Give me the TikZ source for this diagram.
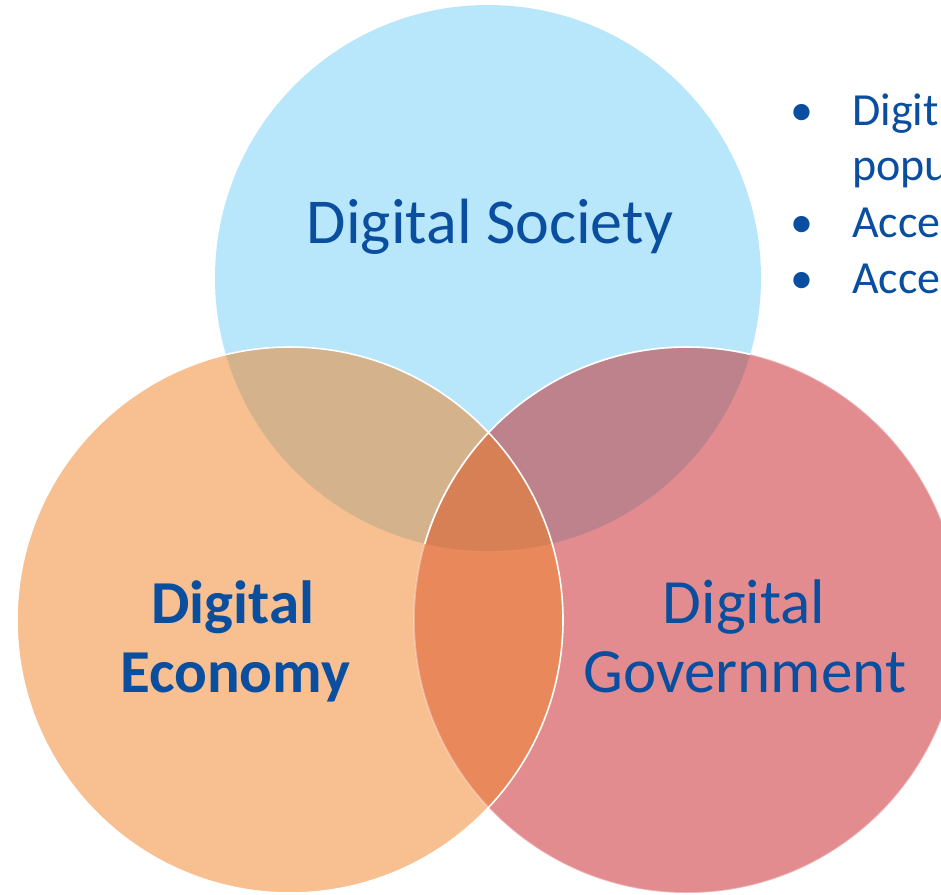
\documentclass[tikz,border=0pt]{standalone}
\usepackage{fontspec}
\setmainfont{Carlito}
\definecolor{cblue}{HTML}{B8E6FA}
\definecolor{corange}{HTML}{F8C091}
\definecolor{cred}{HTML}{E28C8F}
\definecolor{cbo}{HTML}{D4B28C}
\definecolor{cbr}{HTML}{BE828C}
\definecolor{cor}{HTML}{E9885A}
\definecolor{call}{HTML}{D77F55}
\definecolor{ctext}{HTML}{0A4EA0}
\begin{document}
\begin{tikzpicture}[x=1pt,y=-1pt,
  lbl/.style={text=ctext,inner sep=0pt,anchor=base},
  bul/.style={text=ctext,inner sep=0pt,anchor=base west,font=\fontsize{46}{50}\selectfont},
  rim/.style={draw=white,line width=1.6pt}]
\useasboundingbox (0,0) rectangle (941,894);
\def\R{273}
\coordinate (cs) at (488,278);
\coordinate (ce) at (290,620);
\coordinate (cg) at (687,620);
% base fills
\fill[cblue] (cs) circle (\R);
\fill[corange] (ce) circle (\R);
\fill[cred] (cg) circle (\R);
% pairwise overlaps
\begin{scope}\clip (cs) circle (\R); \fill[cbo] (ce) circle (\R); \end{scope}
\begin{scope}\clip (cs) circle (\R); \fill[cbr] (cg) circle (\R); \end{scope}
\begin{scope}\clip (ce) circle (\R); \fill[cor] (cg) circle (\R); \end{scope}
\begin{scope}\clip (cs) circle (\R); \clip (ce) circle (\R); \fill[call] (cg) circle (\R); \end{scope}
% outlines
\draw[rim,draw opacity=0.35] (cg) circle (\R);
\begin{scope}\clip (cs) circle (\R); \draw[rim] (cg) circle (\R); \end{scope}
\draw[rim] (ce) circle (\R);
% labels
\node[lbl,font=\fontsize{64}{70}\selectfont] (soc) at (490,243) {Digital Society};
\node[lbl,font=\fontsize{61}{69}\bfseries] (eco1) at (233,623) {Digital};
\node[lbl,font=\fontsize{61}{69}\bfseries] (eco2) at (235,692) {Economy};
\node[lbl,font=\fontsize{63}{69}\selectfont] (gov1) at (744,623) {Digital};
\node[lbl,font=\fontsize{63}{69}\selectfont] (gov2) at (745,692) {Government};
% bullet list
\node[bul] (b1) at (790,125) {•};
\node[bul] (t1) at (852,125) {Digit};
\node[bul] (t1b) at (852,180) {popu};
\node[bul] (b2) at (790,237) {•};
\node[bul] (t2) at (852,237) {Acce};
\node[bul] (b3) at (790,293) {•};
\node[bul] (t3) at (852,293) {Acce};
\end{tikzpicture}
\end{document}
